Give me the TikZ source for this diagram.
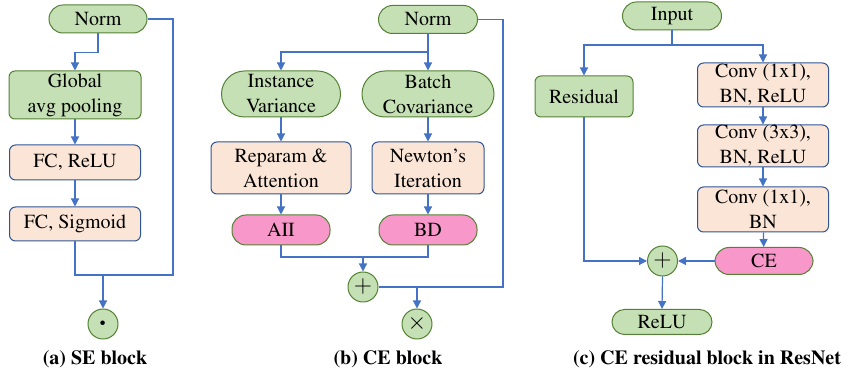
\documentclass[tikz,border=0pt]{standalone}
\usepackage[T1]{fontenc}
\usepackage{times}
\usepackage{amsmath}
\usepackage{xcolor}
\usepackage{tikz}
\usetikzlibrary{positioning,arrows.meta}

\definecolor{normfill}{HTML}{C5E0B4}
\definecolor{normline}{HTML}{548235}
\definecolor{opfill}{HTML}{FBE5D6}
\definecolor{opline}{HTML}{2F5597}
\definecolor{cefill}{HTML}{F897C9}
\definecolor{wire}{HTML}{4472C4}

\begin{document}
\begin{tikzpicture}[x=0.5pt,y=-0.5pt,
  font=\fontsize{10}{12.5}\selectfont,
  base/.style={draw, line width=0.5pt, align=center, inner sep=0pt},
  pill/.style={base, draw=normline, fill=normfill, rounded corners=#1},
  greenbox/.style={base, draw=normline, fill=normfill, rounded corners=3pt},
  opbox/.style={base, draw=opline, fill=opfill, rounded corners=3pt},
  cepill/.style={base, draw=normline, fill=cefill, rounded corners=7pt},
  opcirc/.style={base, circle, draw=normline, fill=normfill, minimum size=15pt},
  line/.style={draw=wire, line width=0.6pt},
  arr/.style={line, -{Triangle[length=4pt,width=4pt]}}]
\useasboundingbox (0,0) rectangle (847,373);

% (a) SE block
\node[pill=7pt, minimum width=49pt, minimum height=14pt] (norma) at (98,19) {Norm};
\node[greenbox, minimum width=66pt, minimum height=24pt] (gap) at (75,95) {Global\\avg pooling};
\node[opbox, minimum width=65.5pt, minimum height=17.5pt] (fcrelu) at (75,162.5) {FC, ReLU};
\node[opbox, minimum width=65.5pt, minimum height=17pt] (fcsig) at (75,224) {FC, Sigmoid};
\node[opcirc] (dota) at (103,324) {\fontsize{15}{15}\selectfont$\boldsymbol{\cdot}$};
\coordinate (ra) at (173,275);
\draw[arr] (norma.south) -- ++(0,19) -| (gap.north);
\draw[arr] (gap) -- (fcrelu);
\draw[arr] (fcrelu) -- (fcsig);
\draw[line] (norma.east) -| (ra) -| (fcsig.south);
\draw[arr] (dota |- ra) -- (dota.north);
\node (capa) at (95,359) {\textbf{(a) SE block}};

% (b) CE block
\node[pill=7pt, minimum width=49.5pt, minimum height=14pt] (normb) at (428,19.5) {Norm};
\node[pill=11.5pt, minimum width=59.5pt, minimum height=23pt] (iv) at (281,94) {Instance\\Variance};
\node[pill=11.5pt, minimum width=66pt, minimum height=23pt] (bc) at (428,94) {Batch\\Covariance};
\node[opbox, minimum width=70pt, minimum height=26pt] (rep) at (281,168) {Reparam \&\\Attention};
\node[opbox, minimum width=56pt, minimum height=26pt] (newton) at (428,168) {Newton's\\Iteration};
\node[cepill, minimum width=49pt, minimum height=15pt] (aii) at (281,230) {AII};
\node[cepill, minimum width=49pt, minimum height=15pt] (bd) at (428,230) {BD};
\node[opcirc] (plusb) at (363,287) {\fontsize{13}{13}\selectfont$+$};
\node[opcirc] (timesb) at (417,324) {\fontsize{12}{12}\selectfont$\times$};
\coordinate (splitb) at (428,52);
\coordinate (joinb) at (363,257);
\coordinate (rb) at (503,287);
\draw[line] (normb.south) -- (splitb);
\draw[arr] (splitb) -| (iv.north);
\draw[arr] (splitb) -- (bc.north);
\draw[arr] (iv) -- (rep);
\draw[arr] (bc) -- (newton);
\draw[arr] (rep) -- (aii);
\draw[arr] (newton) -- (bd);
\draw[line] (aii.south) |- (joinb) -| (bd.south);
\draw[arr] (joinb) -- (plusb.north);
\draw[line] (normb.east) -| (rb) -- (plusb.east);
\draw[arr] (timesb |- rb) -- (timesb.north);
\node (capb) at (388,359) {\textbf{(b) CE block}};

% (c) CE residual block in ResNet
\node[pill=7pt, minimum width=49.5pt, minimum height=14pt] (input) at (672,16) {Input};
\node[greenbox, minimum width=49pt, minimum height=20.5pt] (res) at (584,96.5) {Residual};
\node[opbox, minimum width=65.5pt, minimum height=22pt] (conv1) at (763,85) {Conv (1x1),\\BN, ReLU};
\node[opbox, minimum width=65.5pt, minimum height=21pt] (conv2) at (763,146) {Conv (3x3),\\BN, ReLU};
\node[opbox, minimum width=65.5pt, minimum height=22.5pt] (conv3) at (763,209.5) {Conv (1x1),\\BN};
\node[cepill, minimum width=49pt, minimum height=13.5pt] (ce) at (764,261) {CE};
\node[opcirc] (plusc) at (662.5,261) {\fontsize{13}{13}\selectfont$+$};
\node[pill=6.25pt, minimum width=50pt, minimum height=12.5pt] (relu) at (662,322) {ReLU};
\coordinate (splitc) at (672,45);
\draw[line] (input.south) -- (splitc);
\draw[arr] (splitc) -| (res.north);
\draw[arr] (splitc) -| (conv1.north);
\draw[arr] (conv1) -- (conv2);
\draw[arr] (conv2) -- (conv3);
\draw[arr] (conv3) -- (ce);
\draw[arr] (res.south) |- (plusc.west);
\draw[arr] (ce.west) -- (plusc.east);
\draw[arr] (plusc.south) -- (relu.north);
\node (capc) at (707,359) {\textbf{(c) CE residual block in ResNet}};
\end{tikzpicture}
\end{document}
